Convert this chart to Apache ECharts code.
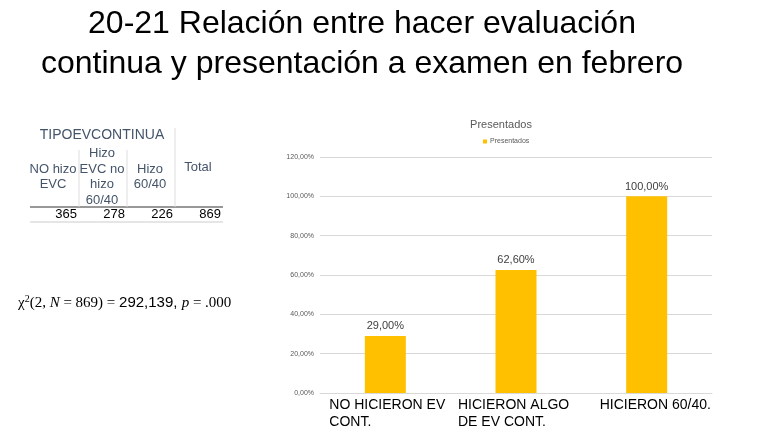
<!DOCTYPE html>
<html><head><meta charset="utf-8">
<script src="https://cdn.jsdelivr.net/npm/echarts@6/dist/echarts.min.js"></script>
<style>html,body{margin:0;padding:0;background:#fff}#c{width:768px;height:432px}</style>
</head><body><div id="c"></div>
<script>
const categories = ['NO HICIERON EV\nCONT.', 'HICIERON ALGO\nDE EV CONT.', 'HICIERON 60/40.'];
const presentados = [29.0, 62.6, 100.0];
const yTicks = [0, 20, 40, 60, 80, 100, 120];
const tableHeaders = ['NO hizo\nEVC', 'Hizo\nEVC no\nhizo\n60/40', 'Hizo\n60/40', 'Total'];
const tableCounts = ['365', '278', '226', '869'];

const fmt = v => v.toFixed(2).replace('.', ',') + '%';
const chart = echarts.init(document.getElementById('c'));
const hdrColor = '#44546a';
const colCenters = [53, 102, 150, 198];
const colRights = [77, 125, 173, 221];
const graphics = [
  {type:'text', x:362, y:4, style:{text:'20-21 Relación entre hacer evaluación\ncontinua y presentación a examen en febrero', font:'32px "Liberation Sans", Arial', fill:'#000', align:'center', lineHeight:40}},
  {type:'text', x:102, y:135, style:{text:'TIPOEVCONTINUA', font:'14px "Liberation Sans", Arial', fill:hdrColor, align:'center', verticalAlign:'middle'}},
  {type:'line', shape:{x1:30,y1:207,x2:223,y2:207}, style:{stroke:'#333', lineWidth:1}},
  {type:'line', shape:{x1:30,y1:222,x2:223,y2:222}, style:{stroke:'#ccc', lineWidth:1}},
  {type:'line', shape:{x1:79,y1:150,x2:79,y2:207}, style:{stroke:'#ddd', lineWidth:1}},
  {type:'line', shape:{x1:127,y1:150,x2:127,y2:207}, style:{stroke:'#ddd', lineWidth:1}},
  {type:'line', shape:{x1:175,y1:128,x2:175,y2:207}, style:{stroke:'#ddd', lineWidth:1}},
  {type:'text', x:18, y:303, style:{
    text:'{t|χ}{s|2}{t|(2, }{i|N}{t| = 869) = }{a|292,139, }{i|p}{t| = .000}',
    verticalAlign:'middle',
    rich:{
      t:{font:'15px "Liberation Serif", "Times New Roman"', fill:'#000'},
      i:{font:'italic 15px "Liberation Serif", "Times New Roman"', fill:'#000'},
      s:{font:'10px "Liberation Serif", "Times New Roman"', fill:'#000', verticalAlign:'top', padding:[0,0,8,0]},
      a:{font:'15px "Liberation Sans", Arial', fill:'#000'}
    }}}
];
tableHeaders.forEach((h, i) => {
  graphics.push({type:'text', x:colCenters[i], y:i===3?167:177, style:{text:h, font:'13px "Liberation Sans", Arial', fill:hdrColor, align:'center', verticalAlign:'middle', lineHeight:15.5}});
});
tableCounts.forEach((c, i) => {
  graphics.push({type:'text', x:colRights[i], y:214, style:{text:c, font:'13px "Liberation Sans", Arial', fill:'#000', align:'right', verticalAlign:'middle'}});
});

const labelStyle = w => ({width:w, align:'left', fontSize:14, color:'#000', lineHeight:17, fontFamily:'"Liberation Sans", Arial'});
const tags = ['a', 'b', 'c'];

chart.setOption({
  animation:false,
  title:{text:'Presentados', left:496, top:114, textAlign:'center', textStyle:{fontSize:11, fontWeight:'normal', color:'#595959', fontFamily:'"Liberation Sans", Arial'}},
  legend:{data:['Presentados'], left:478, top:133, itemWidth:4, itemHeight:4, itemGap:4, icon:'rect', textStyle:{fontSize:7, color:'#595959', fontFamily:'"Liberation Sans", Arial', padding:[0,0,0,-2]}},
  grid:{left:320, right:56, top:157, bottom:39},
  xAxis:{type:'category', data:categories, axisTick:{show:false}, axisLine:{lineStyle:{color:'#d9d9d9'}},
    axisLabel:{interval:0, margin:4, align:'center',
      formatter:(v, i) => v.split('\n').map(l => '{' + tags[i] + '|' + l + '}').join('\n'),
      rich:{a:labelStyle(112), b:labelStyle(116), c:labelStyle(94)}}},
  yAxis:{type:'value', min:yTicks[0], max:yTicks[yTicks.length-1], interval:20,
    axisLabel:{formatter:fmt, fontSize:7, color:'#595959', margin:6, fontFamily:'"Liberation Sans", Arial'},
    splitLine:{lineStyle:{color:'#d9d9d9'}}, axisLine:{show:false}, axisTick:{show:false}},
  series:[{name:'Presentados', type:'bar', data:presentados, barWidth:41, itemStyle:{color:'#ffc000'},
    label:{show:true, position:'top', formatter:p=>fmt(p.value), fontSize:11, color:'#404040', distance:4, fontFamily:'"Liberation Sans", Arial'}}],
  graphic:graphics
});
</script></body></html>
